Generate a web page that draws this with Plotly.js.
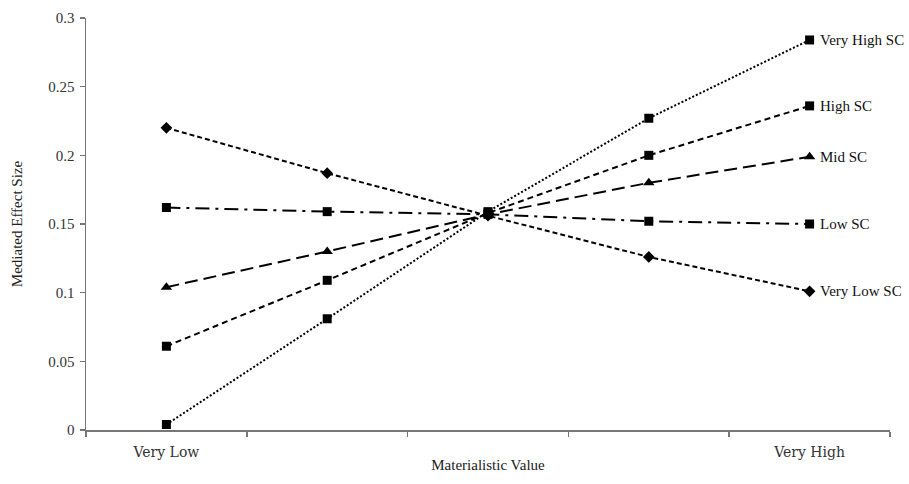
<!DOCTYPE html>
<html><head><meta charset="utf-8">
<script src="https://cdn.plot.ly/plotly-3.0.1.min.js"></script>
<style>html,body{margin:0;padding:0;background:#fff;}#chart{width:909px;height:484px;}</style>
</head><body><div id="chart"></div>
<script>
const xPositions = [1, 2, 3, 4, 5];
const xTickLabels = ["Very Low", "", "", "", "Very High"];
const seriesNames = ["Very High SC", "High SC", "Mid SC", "Low SC", "Very Low SC"];
const veryHighSC = [0.004, 0.081, 0.159, 0.227, 0.284];
const highSC = [0.061, 0.109, 0.158, 0.200, 0.236];
const midSC = [0.104, 0.130, 0.157, 0.180, 0.199];
const lowSC = [0.162, 0.159, 0.157, 0.152, 0.150];
const veryLowSC = [0.220, 0.187, 0.156, 0.126, 0.101];

const seriesValues = [veryHighSC, highSC, midSC, lowSC, veryLowSC];
const dashes = ["2px,2px", "6px,4px", "13px,6px", "14px,6px,3px,6px", "5px,3px"];
const symbols = ["square", "square", "triangle-up", "square", "diamond"];
const sizes = [9, 9, 10, 9, 9];

const traces = seriesValues.map((vals, i) => ({
  x: xPositions, y: vals, type: 'scatter', mode: 'lines+markers', name: seriesNames[i],
  line: {color: '#000', width: 2, dash: dashes[i]},
  marker: {symbol: symbols[i], size: sizes[i], color: '#000'},
  cliponaxis: false, showlegend: false
}));

const annotations = seriesValues.map((vals, i) => ({
  x: xPositions[xPositions.length - 1], y: vals[vals.length - 1], xref: 'x', yref: 'y',
  text: seriesNames[i], showarrow: false, xanchor: 'left', xshift: 8,
  font: {family: 'Liberation Serif, Times New Roman, serif', size: 15, color: '#111'}
}));

const layout = {
  width: 909, height: 484,
  margin: {l: 86, r: 19, t: 18, b: 54},
  paper_bgcolor: '#fff', plot_bgcolor: '#fff',
  font: {family: 'Liberation Serif, Times New Roman, serif', size: 15, color: '#000'},
  xaxis: {
    range: [0.5, 5.5], tickmode: 'array', tickvals: xPositions, ticktext: xTickLabels,
    ticks: '', showgrid: false, zeroline: false, showline: true, linecolor: '#777', linewidth: 1.5,
    ticklabelstandoff: 9,
    tickfont: {family: 'DejaVu Serif, serif', size: 14, color: '#333'},
    minor: {tickmode: 'array', tickvals: [0.5, 1.5, 2.5, 3.5, 4.5, 5.5], ticks: 'outside', ticklen: 5, tickcolor: '#777', tickwidth: 1.5, showgrid: false},
    title: {text: 'Materialistic Value', standoff: 0, font: {size: 15, color: '#222'}}
  },
  yaxis: {
    range: [0, 0.3], tickmode: 'array', tickvals: [0, 0.05, 0.1, 0.15, 0.2, 0.25, 0.3],
    ticktext: ['0', '0.05', '0.1', '0.15', '0.2', '0.25', '0.3'],
    ticks: 'outside', ticklen: 5, tickcolor: '#777', tickwidth: 1.5,
    showgrid: false, zeroline: false, showline: true, linecolor: '#777', linewidth: 1.5,
    ticklabelstandoff: 2,
    tickfont: {size: 15, color: '#333'},
    title: {text: 'Mediated Effect Size', standoff: 22, font: {size: 15, color: '#222'}}
  },
  annotations: annotations
};

Plotly.newPlot('chart', traces, layout, {displayModeBar: false, staticPlot: true});
</script></body></html>
